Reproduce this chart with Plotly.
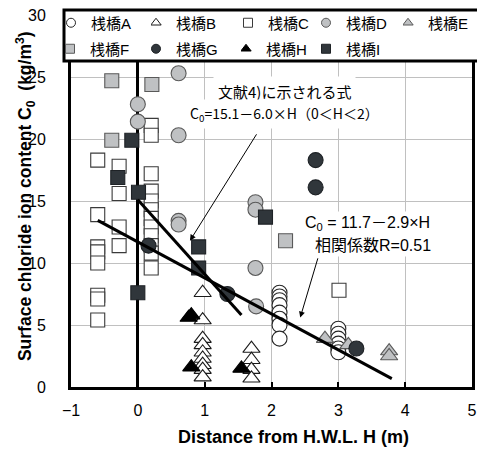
import plotly.graph_objects as go

# Surface chloride ion content C0 (kg/m3) against distance from H.W.L. H (m), per pier
a_h = [2.12, 2.12, 2.12, 2.12, 2.12, 2.12, 2.12, 2.12, 3.00, 3.00, 3.00, 3.00, 3.00, 3.00]
a_c = [7.6, 7.3, 7.0, 6.6, 6.0, 5.5, 5.0, 3.9, 4.7, 4.3, 3.9, 3.5, 3.1, 2.8]

b_h = [0.97, 0.97, 0.97, 0.97, 0.97, 0.97, 0.97, 0.97, 0.97, 1.70, 1.70, 1.70, 1.70]
b_c = [7.6, 5.4, 3.9, 3.4, 2.8, 2.3, 1.8, 1.4, 0.8, 3.1, 2.2, 1.4, 0.7]

c_h = [-0.60, -0.60, -0.60, -0.60, -0.60, -0.60, -0.60, -0.60,
       -0.28, -0.28, -0.28, -0.28,
       0.20, 0.20, 0.20, 0.20, 0.20, 0.20, 0.20, 0.20, 0.20, 0.20, 0.20, 0.20,
       3.01]
c_c = [18.3, 13.9, 11.3, 10.9, 10.0, 7.4, 7.1, 5.4,
       17.8, 15.6, 12.9, 11.4,
       21.1, 20.3, 17.2, 15.8, 15.0, 14.3, 13.6, 12.9, 12.2, 11.4, 10.8, 9.6,
       7.8]

d_h = [0.61, 0.00, 0.00, 0.61, 0.61, 0.61, 1.76, 1.76, 1.76, 1.77]
d_c = [25.3, 22.8, 21.4, 20.3, 13.4, 13.1, 14.9, 14.3, 9.6, 6.5]

e_h = [2.80, 3.15, 3.76, 3.76]
e_c = [3.9, 3.4, 2.9, 2.5]

f_h = [-0.39, 0.21, -0.39, 2.21]
f_c = [24.7, 24.4, 19.9, 11.8]

g_h = [0.16, 1.34, 2.66, 2.66, 3.27]
g_c = [11.4, 7.5, 18.3, 16.1, 3.1]

h_h = [0.80, 0.76, 0.80, 1.55]
h_c = [5.8, 5.6, 1.6, 1.5]

i_h = [-0.09, -0.30, 0.01, 0.00, 0.91, 0.91, 1.91]
i_c = [19.9, 16.9, 15.7, 7.6, 11.3, 9.6, 13.7]

pier_names = ["桟橋A", "桟橋B", "桟橋C", "桟橋D", "桟橋E", "桟橋F", "桟橋G", "桟橋H", "桟橋I"]

# Fitted line C0 = reg_a - reg_b * H and the literature formula
reg_a, reg_b, reg_r = 11.7, 2.9, 0.51
reg_span = [-0.6, 3.8]
lit_a, lit_b = 15.1, 6.0
lit_span = [0.0, 1.55]

x_ticks = [-1, 0, 1, 2, 3, 4, 5]
y_ticks = [0, 5, 10, 15, 20, 25, 30]

LIGHT = "#bfc1c3"
DARK = "#30363b"
LATIN = "Arial, Liberation Sans, Noto Sans CJK JP, sans-serif"
CJK = "Noto Sans CJK JP, sans-serif"

W, H = 477, 450
ML, MR, MT, MB = 71, 5, 15, 63
PW, PH = W - ML - MR, H - MT - MB


def px_to_paper(px, py):
    return (px - ML) / PW, (H - MB - py) / PH


styles = [
    ("circle", "white", "#262626", 15),
    ("triangle-up", "white", "#1a1a1a", 15),
    ("square", "white", "#3a3a3a", 14),
    ("circle", LIGHT, "#595959", 15),
    ("triangle-up", LIGHT, "#595959", 15),
    ("square", LIGHT, "#595959", 14),
    ("circle", DARK, "#1e2226", 15),
    ("triangle-up", "#000000", "#000000", 15),
    ("square", DARK, "#1e2226", 14),
]
data = [(a_h, a_c), (b_h, b_c), (c_h, c_c), (d_h, d_c), (e_h, e_c),
        (f_h, f_c), (g_h, g_c), (h_h, h_c), (i_h, i_c)]

# key placement (pixel left edge, pixel row centre) in a 5 + 4 grid
key_left = [66, 151, 243, 321, 403, 65, 151, 241, 321]
key_row = [23, 23, 23, 23, 23, 49, 49, 49, 49]

fig = go.Figure()

for (hs, cs), (sym, fill, edge, size) in zip(data, styles):
    fig.add_trace(go.Scatter(
        x=hs, y=cs, mode="markers", showlegend=False, hoverinfo="x+y",
        marker=dict(symbol=sym, size=size, color=fill, line=dict(color=edge, width=1.1)),
    ))

# one small legend per pier so the keys sit on a fixed grid
legend_layout = {}
for k, (name, (sym, fill, edge, size)) in enumerate(zip(pier_names, styles)):
    lid = "legend" if k == 0 else f"legend{k + 1}"
    fig.add_trace(go.Scatter(
        x=[None], y=[None], mode="markers", name=name, showlegend=True, legend=lid,
        marker=dict(symbol=sym, size=9, color=fill, line=dict(color=edge, width=1)),
    ))
    lx, ly = px_to_paper(key_left[k], key_row[k])
    legend_layout[lid] = dict(
        x=lx, y=ly, xanchor="left", yanchor="middle", orientation="v",
        bgcolor="rgba(0,0,0,0)", borderwidth=0, indentation=-15,
        itemwidth=30, itemsizing="trace",
        font=dict(family=LATIN, size=15, color="black"),
    )

fig.add_trace(go.Scatter(
    x=lit_span, y=[lit_a - lit_b * h for h in lit_span], mode="lines",
    showlegend=False, line=dict(color="black", width=3),
))
fig.add_trace(go.Scatter(
    x=reg_span, y=[reg_a - reg_b * h for h in reg_span], mode="lines",
    showlegend=False, line=dict(color="black", width=3),
))

# frame behind the legend keys
bx0, by0 = px_to_paper(64, 61)
bx1, by1 = px_to_paper(490, 10)
shapes = [dict(type="rect", xref="paper", yref="paper", x0=bx0, x1=bx1, y0=by0, y1=by1,
               line=dict(color="black", width=3), fillcolor="white", layer="above")]

annotations = [
    # literature formula label
    dict(x=2.19, y=23.8, xref="x", yref="y", text="文献4)に示される式", showarrow=False,
         font=dict(family=CJK, size=15, color="black"), bgcolor="white", borderpad=4),
    dict(x=2.19, y=22.0, xref="x", yref="y",
         text=f"C<sub>0</sub>={lit_a}－{lit_b}×H（0＜H＜2）", showarrow=False,
         font=dict(family=CJK, size=14, color="black"), bgcolor="white", borderpad=3),
    dict(x=0.78, y=11.8, ax=1.79, ay=20.5, xref="x", yref="y", axref="x", ayref="y",
         text="", showarrow=True, arrowhead=2, arrowsize=1.2, arrowwidth=1, arrowcolor="black"),
    # fitted line label
    dict(x=2.45, y=13.2, xref="x", yref="y", xanchor="left",
         text=f"C<sub>0</sub> = {reg_a}－{reg_b}×H", showarrow=False,
         font=dict(family=LATIN, size=16, color="black"), bgcolor="white", borderpad=2),
    dict(x=2.6, y=11.4, xref="x", yref="y", xanchor="left",
         text=f"相関係数R={reg_r}", showarrow=False,
         font=dict(family=LATIN, size=16, color="black"), bgcolor="white", borderpad=2),
    dict(x=2.43, y=5.6, ax=2.70, ay=10.5, xref="x", yref="y", axref="x", ayref="y",
         text="", showarrow=True, arrowhead=2, arrowsize=1.2, arrowwidth=1, arrowcolor="black"),
    # axis titles
    dict(x=0.554, y=-0.134, xref="paper", yref="paper", xanchor="center", yanchor="middle",
         showarrow=False, text="<b>Distance from H.W.L. H (m)</b>",
         font=dict(family=LATIN, size=18, color="black")),
    dict(x=-0.115, y=0.513, xref="paper", yref="paper", xanchor="center", yanchor="middle",
         showarrow=False, textangle=-90,
         text="<b>Surface chloride ion content C<sub>0</sub>  (kg/m<sup>3</sup>)</b>",
         font=dict(family=LATIN, size=17.5, color="black")),
]

axis_common = dict(
    showline=True, linecolor="black", linewidth=3, mirror=True,
    showgrid=True, gridcolor="#c0c0c0", gridwidth=1,
    tickfont=dict(family=LATIN, size=16, color="black"),
    fixedrange=True,
)

fig.update_layout(
    width=W, height=H,
    margin=dict(l=ML, r=MR, t=MT, b=MB, autoexpand=False),
    paper_bgcolor="white", plot_bgcolor="white",
    xaxis=dict(range=[-1, 5], tickvals=x_ticks, ticks="inside", ticklen=5, tickwidth=2,
               tickcolor="black", zeroline=True, zerolinecolor="black", zerolinewidth=3,
               ticklabelstandoff=7, automargin=False, **axis_common),
    yaxis=dict(range=[0, 30], tickvals=y_ticks, ticks="outside", ticklen=19,
               tickcolor="rgba(0,0,0,0)", zeroline=False, automargin=False, **axis_common),
    shapes=shapes,
    annotations=annotations,
    showlegend=True,
    **legend_layout,
)

fig.write_html("out.html")
